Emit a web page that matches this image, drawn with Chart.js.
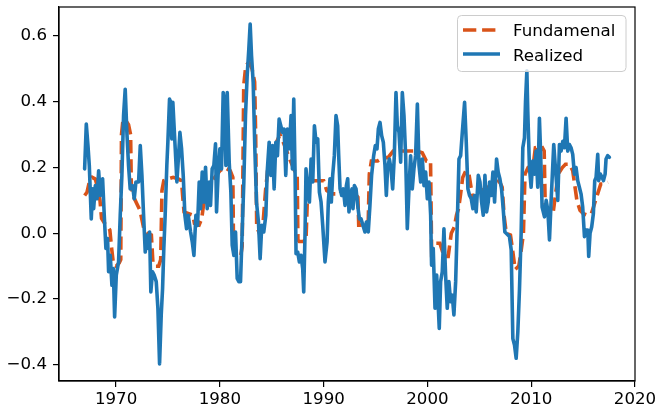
<!DOCTYPE html>
<html>
<head>
<meta charset="utf-8">
<script src="https://cdn.jsdelivr.net/npm/chart.js@4/dist/chart.umd.min.js"></script>
<style>
html,body{margin:0;padding:0;background:#fff;}
canvas{display:block;}
</style>
</head>
<body>
<canvas id="c" width="659" height="409"></canvas>
<script>
// ---- Data ----
const realizedYears = [
1966.97,1967.13,1967.29,1967.42,1967.61,1967.74,1967.84,1968.00,1968.16,1968.32,1968.48,1968.70,1968.86,
1969.02,1969.18,1969.28,1969.44,1969.60,1969.73,1969.86,1970.02,1970.24,1970.40,1970.56,1970.72,1970.88,
1971.04,1971.20,1971.36,1971.59,1971.75,1971.91,1972.17,1972.33,1972.49,1972.65,1972.81,1972.97,1973.13,
1973.23,1973.35,1973.51,1973.67,1973.87,1974.03,1974.19,1974.35,1974.48,1974.60,1974.73,1974.89,1974.99,
1975.15,1975.28,1975.37,1975.47,1975.70,1975.86,1976.02,1976.15,1976.31,1976.47,1976.63,1976.79,1976.95,
1977.18,1977.34,1977.50,1977.69,1977.85,1978.01,1978.14,1978.30,1978.46,1978.62,1978.78,1978.97,1979.10,
1979.26,1979.42,1979.58,1979.68,1979.84,1980.00,1980.16,1980.32,1980.45,1980.58,1980.71,1980.90,1981.06,
1981.19,1981.35,1981.51,1981.67,1981.83,1981.99,1982.15,1982.31,1982.47,1982.63,1982.79,1982.92,1983.05,
1983.21,1983.37,1983.53,1983.72,1983.88,1984.04,1984.23,1984.43,1984.56,1984.75,1984.91,1985.07,1985.23,
1985.39,1985.55,1985.71,1985.87,1986.03,1986.19,1986.35,1986.51,1986.70,1986.86,1986.99,1987.12,1987.25,
1987.34,1987.50,1987.66,1987.82,1987.98,1988.08,1988.21,1988.30,1988.47,1988.63,1988.79,1988.95,1989.11,
1989.27,1989.43,1989.59,1989.75,1989.91,1990.13,1990.33,1990.45,1990.61,1990.74,1990.87,1991.03,1991.19,
1991.35,1991.45,1991.58,1991.74,1991.90,1992.06,1992.19,1992.32,1992.44,1992.57,1992.73,1992.83,1992.96,
1993.12,1993.28,1993.44,1993.60,1993.79,1993.98,1994.11,1994.30,1994.46,1994.62,1994.82,1994.98,1995.14,
1995.27,1995.43,1995.59,1995.75,1995.91,1996.04,1996.16,1996.33,1996.49,1996.65,1996.81,1996.97,1997.10,
1997.26,1997.42,1997.58,1997.74,1997.90,1998.06,1998.22,1998.38,1998.54,1998.70,1998.86,1999.03,1999.19,
1999.35,1999.51,1999.67,1999.83,1999.99,2000.15,2000.31,2000.40,2000.56,2000.73,2000.89,2001.01,2001.14,
2001.27,2001.43,2001.59,2001.75,2001.91,2002.07,2002.23,2002.39,2002.55,2002.72,2002.88,2003.04,2003.20,
2003.36,2003.58,2003.74,2003.90,2004.06,2004.22,2004.38,2004.54,2004.70,2004.90,2005.06,2005.22,2005.38,
2005.54,2005.70,2005.86,2005.99,2006.15,2006.31,2006.47,2006.66,2006.82,2006.98,2007.14,2007.30,2007.46,
2007.59,2007.90,2008.07,2008.23,2008.39,2008.55,2008.71,2008.87,2009.03,2009.19,2009.35,2009.45,2009.58,
2009.67,2009.83,2009.99,2010.15,2010.31,2010.47,2010.63,2010.79,2010.89,2011.05,2011.28,2011.44,2011.60,
2011.76,2011.92,2012.17,2012.33,2012.56,2012.72,2012.88,2013.04,2013.20,2013.36,2013.52,2013.68,2013.84,
2014.00,2014.16,2014.32,2014.48,2014.64,2014.80,2014.96,2015.13,2015.29,2015.45,2015.54,2015.67,2015.83,
2015.99,2016.12,2016.25,2016.41,2016.50,2016.66,2016.83,2016.96,2017.12,2017.21,2017.37,2017.53
];
const realizedValues = [
0.196,0.332,0.267,0.206,0.044,0.135,0.075,0.145,0.105,0.190,0.115,0.166,0.055,
-0.046,-0.016,-0.117,-0.067,-0.158,-0.107,-0.254,-0.127,-0.087,0.055,0.176,0.358,0.438,
0.307,0.206,0.135,0.145,0.105,0.156,0.156,0.267,0.176,0.055,-0.057,-0.006,-0.046,
0.004,-0.178,-0.117,-0.127,-0.147,-0.228,-0.397,-0.248,-0.168,-0.046,0.055,0.206,0.277,
0.408,0.398,0.287,0.398,0.257,0.156,0.236,0.307,0.257,0.176,0.055,0.014,0.055,
0.004,-0.026,-0.067,0.055,0.024,0.156,0.075,0.186,0.095,0.201,0.075,0.156,0.085,
0.196,0.206,0.272,0.065,0.186,0.257,0.196,0.428,0.398,0.206,0.428,0.216,0.125,
-0.036,-0.067,0.004,-0.137,-0.147,-0.147,0.004,0.156,0.358,0.479,0.560,0.636,0.540,
0.459,0.257,0.095,0.034,-0.077,0.024,0.004,0.055,0.186,0.277,0.176,0.267,0.135,
0.277,0.236,0.347,0.327,0.307,0.317,0.176,0.317,0.257,0.358,0.196,0.408,0.176,
-0.062,-0.057,-0.087,-0.067,-0.107,-0.178,0.004,0.196,0.135,0.095,0.226,0.156,0.327,
0.277,0.287,0.125,0.095,0.024,-0.087,-0.026,0.095,0.166,0.095,0.176,0.236,0.358,
0.327,0.236,0.135,0.115,0.135,0.085,0.145,0.166,0.065,0.105,0.135,0.075,0.145,
0.135,0.085,0.044,0.044,0.024,0.004,0.034,0.004,0.085,0.176,0.236,0.267,0.257,
0.317,0.337,0.297,0.277,0.206,0.115,0.196,0.226,0.196,0.135,0.236,0.428,0.327,
0.307,0.216,0.428,0.358,0.236,0.014,0.135,0.236,0.135,0.196,0.236,0.393,0.206,
0.156,0.226,0.145,0.186,0.105,0.156,0.055,-0.097,-0.046,-0.228,-0.127,-0.198,-0.289,
-0.147,-0.117,0.014,-0.127,-0.228,-0.147,-0.208,-0.188,-0.248,-0.147,0.034,0.226,0.236,
0.307,0.398,0.277,0.135,0.115,0.105,0.075,0.115,0.065,0.176,0.156,0.095,0.055,
0.176,0.065,0.095,0.156,0.115,0.186,0.095,0.226,0.186,0.166,0.135,0.075,0.004,
0.000,-0.010,-0.050,-0.320,-0.340,-0.380,-0.300,-0.170,0.000,0.260,0.290,0.400,0.494,
0.370,0.200,0.140,0.220,0.180,0.250,0.140,0.350,0.260,0.080,0.050,0.100,0.070,
-0.020,0.100,0.270,0.200,0.100,0.270,0.250,0.280,0.260,0.350,0.250,0.270,0.260,
0.240,0.180,0.200,0.160,0.140,0.120,0.080,-0.010,0.010,0.010,-0.070,0.000,0.020,
0.060,0.160,0.170,0.240,0.160,0.180,0.170,0.160,0.180,0.226,0.236,0.231
];
const fundYears = [
1966.97,1967.20,1967.45,1967.70,1968.00,1968.25,1968.45,1968.60,1968.90,1969.20,1969.40,1969.55,1969.75,
1970.00,1970.30,1970.45,1970.52,1970.65,1970.90,1971.20,1971.40,1971.47,1971.70,1972.00,1972.30,1972.50,
1972.70,1973.00,1973.40,1973.55,1973.80,1974.10,1974.30,1974.42,1974.60,1975.00,1975.50,1976.00,1976.30,
1976.45,1976.55,1977.00,1977.40,1977.55,1978.00,1978.25,1978.40,1978.60,1979.00,1979.50,1980.00,1980.50,
1981.00,1981.25,1981.32,1981.50,1982.00,1982.15,1982.30,1982.50,1982.80,1983.10,1983.35,1983.45,1983.55,
1983.80,1984.10,1984.40,1984.60,1985.00,1985.50,1985.80,1986.20,1986.80,1987.20,1987.45,1987.52,1987.65,
1988.00,1988.30,1988.45,1988.60,1989.00,1989.60,1990.00,1990.30,1990.80,1991.20,1991.50,1992.00,1992.50,
1993.00,1993.30,1993.38,1994.00,1994.30,1994.40,1994.60,1995.20,1995.70,1996.20,1996.70,1997.50,1998.50,
1999.00,1999.50,1999.90,2000.30,2000.40,2000.70,2001.20,2001.60,2002.00,2002.30,2002.60,2002.80,2003.00,
2003.20,2003.40,2003.70,2004.00,2004.40,2004.70,2005.20,2005.80,2006.40,2006.90,2007.20,2007.40,2007.60,
2008.00,2008.20,2008.45,2008.80,2009.00,2009.25,2009.40,2009.70,2010.20,2010.40,2011.00,2011.25,2011.35,
2011.60,2012.10,2012.35,2012.60,2013.00,2013.30,2013.70,2014.00,2014.40,2014.70,2015.00,2015.40,2015.80,
2016.10,2016.40,2016.70,2017.00,2017.40
];
const fundValues = [
0.115,0.125,0.160,0.170,0.165,0.135,0.100,0.045,0.030,0.020,0.010,-0.040,-0.095,
-0.100,-0.090,-0.080,0.300,0.340,0.345,0.330,0.300,0.140,0.110,0.090,0.070,0.040,
0.010,0.000,-0.005,-0.090,-0.100,-0.100,-0.080,0.130,0.160,0.165,0.170,0.165,0.160,
0.100,0.065,0.060,0.055,0.030,0.025,0.045,0.080,0.120,0.140,0.170,0.190,0.200,
0.190,0.170,-0.050,-0.065,-0.070,-0.040,0.450,0.510,0.520,0.500,0.460,0.300,0.020,
0.000,0.005,0.130,0.190,0.220,0.280,0.300,0.270,0.220,0.190,0.180,-0.020,-0.025,
-0.025,-0.020,0.120,0.160,0.160,0.160,0.160,0.130,0.120,0.120,0.130,0.120,0.120,
0.120,0.110,0.025,0.025,0.040,0.180,0.220,0.220,0.230,0.230,0.250,0.250,0.250,
0.250,0.245,0.220,0.220,-0.050,-0.030,-0.030,-0.070,-0.070,0.000,0.020,0.055,0.075,
0.120,0.170,0.190,0.180,0.100,0.120,0.130,0.140,0.150,0.160,0.140,0.050,0.000,
-0.005,-0.050,-0.110,-0.100,-0.060,0.000,0.180,0.200,0.210,0.260,0.265,0.250,0.080,
0.060,0.060,0.120,0.180,0.200,0.210,0.210,0.190,0.100,0.070,0.060,0.055,0.060,
0.090,0.120,0.150,0.150,0.155
];
const xTickValues = [1970, 1980, 1990, 2000, 2010, 2020];
const yTickValues = [-0.4, -0.2, 0.0, 0.2, 0.4, 0.6];
const seriesNames = ['Fundamenal', 'Realized'];

// ---- Styles ----
const BLUE = '#1f77b4';
const ORANGE = '#d95319';
const FONT = 'DejaVu Sans';
const FSIZE = 16.67;
const LW = 3.6;
const DASH = [13.3, 5.8];

const toPts = (xs, ys) => xs.map((x, i) => ({x: x, y: ys[i]}));

const legendBox = {
  id: 'legendBox',
  afterDraw(chart) {
    const ctx = chart.ctx;
    const ca = chart.chartArea;
    ctx.save();
    // frame (all four spines)
    ctx.strokeStyle = '#000';
    ctx.lineWidth = 1.2;
    ctx.strokeRect(ca.left, ca.top, ca.right - ca.left, ca.bottom - ca.top);
    // legend
    const x0 = 457.5, y0 = 15.5, w = 168.5, h = 56, r = 4;
    ctx.beginPath();
    ctx.moveTo(x0 + r, y0);
    ctx.lineTo(x0 + w - r, y0); ctx.arcTo(x0 + w, y0, x0 + w, y0 + r, r);
    ctx.lineTo(x0 + w, y0 + h - r); ctx.arcTo(x0 + w, y0 + h, x0 + w - r, y0 + h, r);
    ctx.lineTo(x0 + r, y0 + h); ctx.arcTo(x0, y0 + h, x0, y0 + h - r, r);
    ctx.lineTo(x0, y0 + r); ctx.arcTo(x0, y0, x0 + r, y0, r);
    ctx.closePath();
    ctx.fillStyle = 'rgba(255,255,255,0.8)';
    ctx.fill();
    ctx.strokeStyle = '#cccccc';
    ctx.lineWidth = 1;
    ctx.stroke();
    // handles
    ctx.lineWidth = LW;
    ctx.strokeStyle = ORANGE;
    ctx.setLineDash(DASH);
    ctx.beginPath(); ctx.moveTo(463, 30); ctx.lineTo(500, 30); ctx.stroke();
    ctx.setLineDash([]);
    ctx.strokeStyle = BLUE;
    ctx.beginPath(); ctx.moveTo(463, 54); ctx.lineTo(500, 54); ctx.stroke();
    // labels
    ctx.fillStyle = '#000';
    ctx.font = FSIZE + 'px "' + FONT + '"';
    ctx.textAlign = 'left';
    ctx.textBaseline = 'alphabetic';
    ctx.fillText(seriesNames[0], 513, 36);
    ctx.fillText(seriesNames[1], 513, 60.5);
    ctx.restore();
  }
};

new Chart(document.getElementById('c'), {
  type: 'line',
  data: {
    datasets: [
      {
        label: seriesNames[1],
        data: toPts(realizedYears, realizedValues),
        borderColor: BLUE,
        borderWidth: LW,
        pointRadius: 0,
        tension: 0,
        fill: false,
        borderJoinStyle: 'round',
        borderCapStyle: 'round'
      },
      {
        label: seriesNames[0],
        data: toPts(fundYears, fundValues),
        borderColor: ORANGE,
        borderWidth: LW,
        borderDash: DASH,
        pointRadius: 0,
        tension: 0,
        fill: false
      }
    ]
  },
  options: {
    responsive: false,
    animation: false,
    layout: { padding: { top: 7, right: 24, left: 0, bottom: 0 } },
    plugins: { legend: { display: false }, tooltip: { enabled: false } },
    scales: {
      x: {
        type: 'linear',
        min: 1964.5,
        max: 2020,
        afterBuildTicks: (s) => { s.ticks = xTickValues.map(v => ({value: v})); },
        afterFit: (s) => { s.height = 28; s.paddingLeft = 0; s.paddingRight = 0; },
        ticks: {
          color: '#000',
          font: { family: FONT, size: FSIZE },
          padding: 3,
          maxRotation: 0,
          autoSkip: false,
          callback: (v) => String(v)
        },
        grid: { display: true, drawOnChartArea: false, drawTicks: true, tickLength: 6, color: '#000', lineWidth: 1.2 },
        border: { display: true, color: '#000', width: 1.2 }
      },
      y: {
        type: 'linear',
        min: -0.449,
        max: 0.688,
        afterBuildTicks: (s) => { s.ticks = yTickValues.map(v => ({value: v})); },
        afterFit: (s) => { s.width = 59; s.paddingTop = 0; s.paddingBottom = 0; },
        ticks: {
          color: '#000',
          font: { family: FONT, size: FSIZE },
          padding: 6,
          autoSkip: false,
          callback: (v) => (v < 0 ? '\u2212' : '') + Math.abs(v).toFixed(1)
        },
        grid: { display: true, drawOnChartArea: false, drawTicks: true, tickLength: 6, color: '#000', lineWidth: 1.2 },
        border: { display: true, color: '#000', width: 1.2 }
      }
    }
  },
  plugins: [legendBox]
});
</script>
</body>
</html>
